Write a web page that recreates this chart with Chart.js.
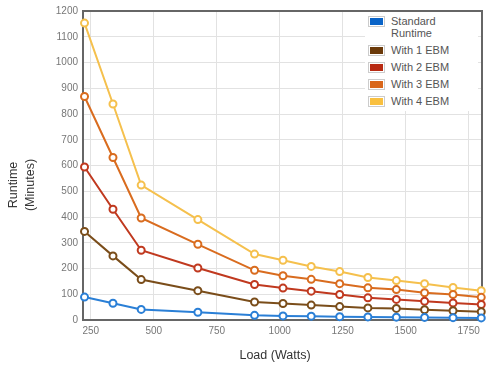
<!DOCTYPE html>
<html lang="en">
<head>
  <meta charset="UTF-8">
  <title>Runtime vs Load</title>
  <script src="https://cdn.jsdelivr.net/npm/chart.js"></script>
  <style>
    body { margin: 0; background: #fff; font-family: "Liberation Sans", Arial, sans-serif; }
    #wrap { position: relative; width: 500px; height: 369px; }
    #yTitle {
      position: absolute; left: -28px; top: 168px; width: 100px; height: 34px;
      transform: rotate(-90deg); text-align: center; font-size: 12.5px; line-height: 17px; color: #333;
    }
    #xTitle {
      position: absolute; left: 225px; width: 100px; top: 347px; text-align: center;
      font-size: 12.5px; line-height: 16px; color: #333;
    }
    #legend {
      position: absolute; left: 365px; top: 12px; width: 113px; padding-top: 3px; padding-bottom: 4px;
      background: #fff; font-size: 11px; line-height: 12px; color: #555;
    }
    .item { display: flex; align-items: flex-start; margin-bottom: 5px; }
    .item:last-child { margin-bottom: 0; }
    .sw { width: 13px; height: 7px; border: 1px solid #ccc; padding: 1px; margin: 1px 6px 0 3px; flex: none; }
    .sw span { display: block; width: 100%; height: 100%; }
  </style>
</head>
<body>
  <div id="wrap">
    <canvas id="runtimeChart" width="500" height="369"></canvas>
    <div id="yTitle">Runtime<br>(Minutes)</div>
    <div id="xTitle">Load (Watts)</div>
    <div id="legend"></div>
  </div>

  <script>
    // Load points (Watts)
    const loads = [225, 338, 450, 675, 900, 1013, 1125, 1238, 1350, 1463, 1575, 1688, 1800];

    // Runtime in minutes
    const standardRuntime = [89, 65, 41, 30, 18, 16, 15, 13, 12, 11, 10, 9, 8];
    const with1EBM = [344, 249, 157, 114, 70, 64, 58, 52, 47, 45, 40, 36, 32];
    const with2EBM = [594, 430, 271, 202, 138, 124, 112, 99, 86, 80, 73, 66, 60];
    const with3EBM = [868, 631, 396, 294, 193, 172, 158, 141, 125, 118, 106, 99, 88];
    const with4EBM = [1153, 839, 524, 390, 256, 232, 208, 188, 165, 153, 141, 126, 114];

    const seriesNames = ['Standard Runtime', 'With 1 EBM', 'With 2 EBM', 'With 3 EBM', 'With 4 EBM'];
    const seriesValues = [standardRuntime, with1EBM, with2EBM, with3EBM, with4EBM];
    const lineColors = ['#2a7fd6', '#7a4d1a', '#c0391f', '#d96c1f', '#f5c04d'];
    const swatchColors = ['#0a64c8', '#6b3a0a', '#b82a12', '#d9661a', '#f9c040'];

    const datasets = seriesNames.map((name, i) => ({
      label: name,
      data: loads.map((x, j) => ({ x: x, y: seriesValues[i][j] })),
      borderColor: lineColors[i],
      backgroundColor: '#fff',
      pointBackgroundColor: '#fff',
      pointBorderColor: lineColors[i],
      pointBorderWidth: 2,
      pointRadius: 3.5,
      borderWidth: 2,
      tension: 0,
      clip: false
    }));

    // top and right edge of the plot frame
    const framePlugin = {
      id: 'frame',
      beforeDatasetsDraw(chart) {
        const a = chart.chartArea, ctx = chart.ctx;
        ctx.save();
        ctx.strokeStyle = '#666';
        ctx.lineWidth = 2;
        ctx.beginPath();
        ctx.moveTo(a.left, a.top);
        ctx.lineTo(a.right, a.top);
        ctx.lineTo(a.right, a.bottom);
        ctx.stroke();
        ctx.restore();
      }
    };

    const plainNumber = value => String(value);

    new Chart(document.getElementById('runtimeChart'), {
      type: 'line',
      data: { datasets: datasets },
      options: {
        responsive: false,
        devicePixelRatio: 1,
        animation: false,
        layout: { padding: { left: 0, top: 7, right: 18, bottom: 0 } },
        plugins: { legend: { display: false }, tooltip: { enabled: false } },
        scales: {
          x: {
            type: 'linear',
            min: 219,
            max: 1803,
            afterFit(scale) { scale.height = 49; },
            ticks: {
              stepSize: 250,
              includeBounds: false,
              padding: 5,
              color: '#777',
              font: { family: 'Liberation Sans', size: 10 },
              callback: plainNumber
            },
            grid: { color: '#e2e2e2', drawTicks: false },
            border: { color: '#666', width: 2 }
          },
          y: {
            min: 0,
            max: 1200,
            afterFit(scale) { scale.width = 83; },
            ticks: {
              stepSize: 100,
              padding: 5,
              color: '#777',
              font: { family: 'Liberation Sans', size: 10 },
              callback: plainNumber
            },
            grid: { color: '#e2e2e2', drawTicks: false },
            border: { color: '#666', width: 2 }
          }
        }
      },
      plugins: [framePlugin]
    });

    // HTML legend inside the plot
    const legend = document.getElementById('legend');
    seriesNames.forEach((name, i) => {
      const item = document.createElement('div');
      item.className = 'item';
      const sw = document.createElement('div');
      sw.className = 'sw';
      const fill = document.createElement('span');
      fill.style.background = swatchColors[i];
      sw.appendChild(fill);
      const txt = document.createElement('div');
      txt.innerHTML = name === 'Standard Runtime' ? 'Standard<br>Runtime' : name;
      item.appendChild(sw);
      item.appendChild(txt);
      legend.appendChild(item);
    });
  </script>
</body>
</html>
